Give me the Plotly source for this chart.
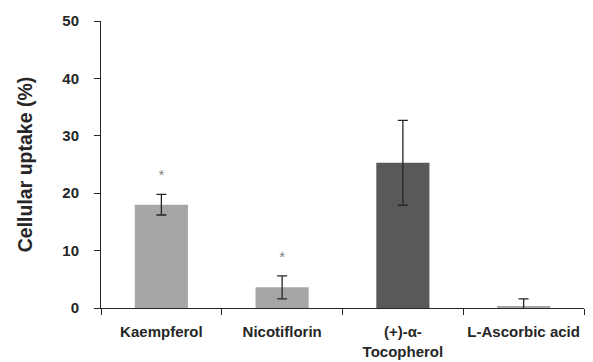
import plotly.graph_objects as go

categories = ["Kaempferol", "Nicotiflorin", "(+)-α-<br>Tocopherol", "L-Ascorbic acid"]
uptake = [18.0, 3.6, 25.3, 0.3]
errors = [1.8, 2.0, 7.4, 1.3]
bar_colors = ["#a6a6a6", "#a6a6a6", "#595959", "#a6a6a6"]
significance = ["*", "*"]
star_y = [23.0, 8.6]

fig = go.Figure()
fig.add_trace(go.Bar(
    x=categories, y=uptake, marker_color=bar_colors, marker_line_width=0,
    width=0.44,
    error_y=dict(type="data", array=errors, visible=True, color="#262626",
                 thickness=1.3, width=5),
))
fig.add_trace(go.Scatter(
    x=categories[:2], y=star_y, mode="text", text=significance,
    textfont=dict(size=15, color="#7f7f7f", family="Liberation Sans"),
    textposition="middle center", hoverinfo="skip",
))

fig.update_layout(
    width=593, height=362, showlegend=False,
    margin=dict(l=101, r=9, t=21, b=54),
    plot_bgcolor="white", paper_bgcolor="white",
    font=dict(family="Liberation Sans", color="#262626"),
)
fig.update_yaxes(
    range=[0, 50], dtick=10, showgrid=False, zeroline=False, automargin=False,
    showline=True, linecolor="#262626", linewidth=1,
    ticks="outside", ticklen=6, tickcolor="#262626", ticklabelstandoff=12,
    tickfont=dict(size=15, family="Liberation Sans", color="#262626"),
    title=dict(text="<b>Cellular uptake (%)</b>", font=dict(size=19.5), standoff=24),
    tickprefix="<b>", ticksuffix="</b>",
)
fig.update_xaxes(
    showgrid=False, showline=True, linecolor="#262626", linewidth=1, automargin=False,
    ticks="outside", ticklen=6, tickcolor="#262626", tickson="boundaries",
    ticklabelstandoff=10, tickangle=0,
    tickfont=dict(size=15, family="Liberation Sans", color="#262626"),
    tickprefix="<b>", ticksuffix="</b>",
)

fig.write_html("out.html", config={"displayModeBar": False},
               post_script="document.body.style.margin='0';")
